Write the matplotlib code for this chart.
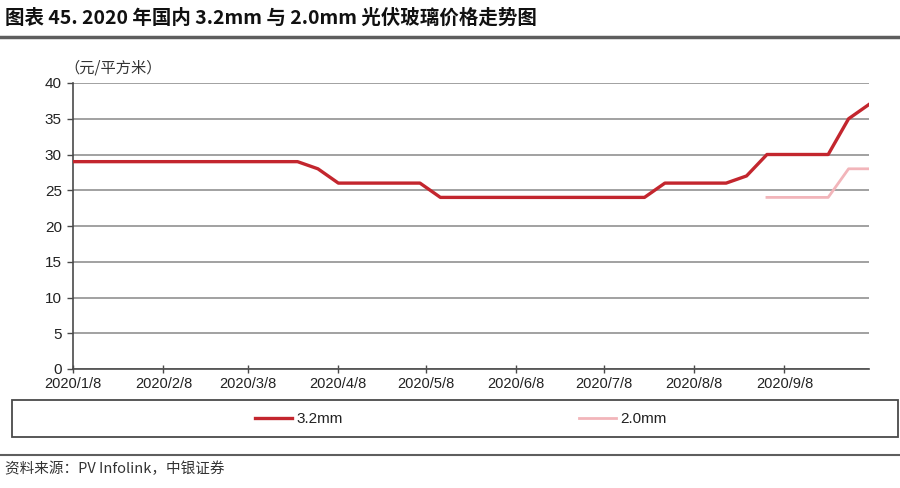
import matplotlib
matplotlib.use("Agg")
import matplotlib.pyplot as plt
from matplotlib.lines import Line2D
from matplotlib.patches import Rectangle
import pandas as pd

# ---- data ----
dates_32 = ["2020-01-08", "2020-01-15", "2020-01-22", "2020-01-29", "2020-02-05",
            "2020-02-12", "2020-02-19", "2020-02-26", "2020-03-04", "2020-03-11",
            "2020-03-18", "2020-03-25", "2020-04-01", "2020-04-08", "2020-04-15",
            "2020-04-22", "2020-04-29", "2020-05-06", "2020-05-13", "2020-05-20",
            "2020-05-27", "2020-06-03", "2020-06-10", "2020-06-17", "2020-06-24",
            "2020-07-01", "2020-07-08", "2020-07-15", "2020-07-22", "2020-07-29",
            "2020-08-05", "2020-08-12", "2020-08-19", "2020-08-26", "2020-09-02",
            "2020-09-09", "2020-09-16", "2020-09-23", "2020-09-30", "2020-10-07"]
price_32 = [29, 29, 29, 29, 29, 29, 29, 29, 29, 29, 29, 29, 28,
            26, 26, 26, 26, 26,
            24, 24, 24, 24, 24, 24, 24, 24, 24, 24, 24,
            26, 26, 26, 26, 27,
            30, 30, 30, 30, 35, 37]
dates_20 = ["2020-09-02", "2020-09-09", "2020-09-16", "2020-09-23", "2020-09-30", "2020-10-07"]
price_20 = [24, 24, 24, 24, 28, 28]
tick_dates = ["2020-01-08", "2020-02-08", "2020-03-08", "2020-04-08", "2020-05-08",
              "2020-06-08", "2020-07-08", "2020-08-08", "2020-09-08"]
tick_labels = ["2020/1/8", "2020/2/8", "2020/3/8", "2020/4/8", "2020/5/8",
               "2020/6/8", "2020/7/8", "2020/8/8", "2020/9/8"]
series_names = ["3.2mm", "2.0mm"]
y_ticks = [0, 5, 10, 15, 20, 25, 30, 35, 40]

title = "图表 45. 2020 年国内 3.2mm 与 2.0mm 光伏玻璃价格走势图"
unit = "（元/平方米）"
source = "资料来源：PV Infolink，中银证券"

CJK = ["Noto Sans CJK SC", "DejaVu Sans"]
LAT = ["Liberation Sans", "DejaVu Sans"]
plt.rcParams["font.family"] = LAT

W, H = 900, 488
fig = plt.figure(figsize=(W / 100, H / 100), dpi=100)
fig.patch.set_facecolor("white")

ax = fig.add_axes([73 / W, 1 - 369 / H, 796 / W, 286 / H])

x32 = pd.to_datetime(dates_32)
x20 = pd.to_datetime(dates_20)
ax.plot(x32, price_32, color="#C3262E", lw=2.4, label=series_names[0], zorder=3)
ax.plot(x20, price_20, color="#F2B5BA", lw=2.0, label=series_names[1], zorder=3)

ax.set_ylim(0, 40)
ax.set_yticks(y_ticks)
ax.set_xlim(x32[0], x32[-1])
ax.set_xticks(pd.to_datetime(tick_dates))
ax.set_xticklabels(tick_labels)
ax.grid(axis="y", color="#9A9A9A", lw=1.3)
ax.set_axisbelow(True)
for s in ["top", "right"]:
    ax.spines[s].set_visible(False)
for s in ["left", "bottom"]:
    ax.spines[s].set_color("#4A4A4A")
    ax.spines[s].set_linewidth(1.2)
ax.tick_params(axis="y", direction="out", length=4, width=1, color="#4A4A4A",
               labelsize=11, labelcolor="#222222", pad=4)
ax.tick_params(axis="x", direction="inout", length=6, width=1, color="#4A4A4A",
               labelsize=10.5, labelcolor="#222222", pad=3)

# unit label
fig.text(64 / W, 1 - 68 / H, unit, family=CJK, fontsize=11, style="italic",
         color="#333333", va="center", ha="left")

# title
fig.text(5 / W, 1 - 18 / H, title, family=CJK, fontsize=14, fontweight="bold",
         color="#111111", va="center", ha="left")
fig.add_artist(Line2D([0, 1], [1 - 37 / H] * 2, color="#5E5E5E", lw=2.5))

# legend
fig.add_artist(Rectangle((12 / W, 1 - 437 / H), 886 / W, 37 / H, fill=False,
                         edgecolor="#4A4A4A", lw=1.3, transform=fig.transFigure))
leg = fig.legend(loc="center", bbox_to_anchor=(461 / W, 1 - 419 / H), ncol=2,
                 frameon=False, fontsize=11, handlelength=2.4, handletextpad=0.3,
                 columnspacing=15.5)
for t in leg.get_texts():
    t.set_color("#222222")

fig.add_artist(Line2D([0, 1], [1 - 455 / H] * 2, color="#5E5E5E", lw=1.5))
fig.text(5 / W, 1 - 469 / H, source, family=CJK, fontsize=10.5, style="italic",
         color="#333333", va="center", ha="left")

fig.savefig("out.png", dpi=100)
